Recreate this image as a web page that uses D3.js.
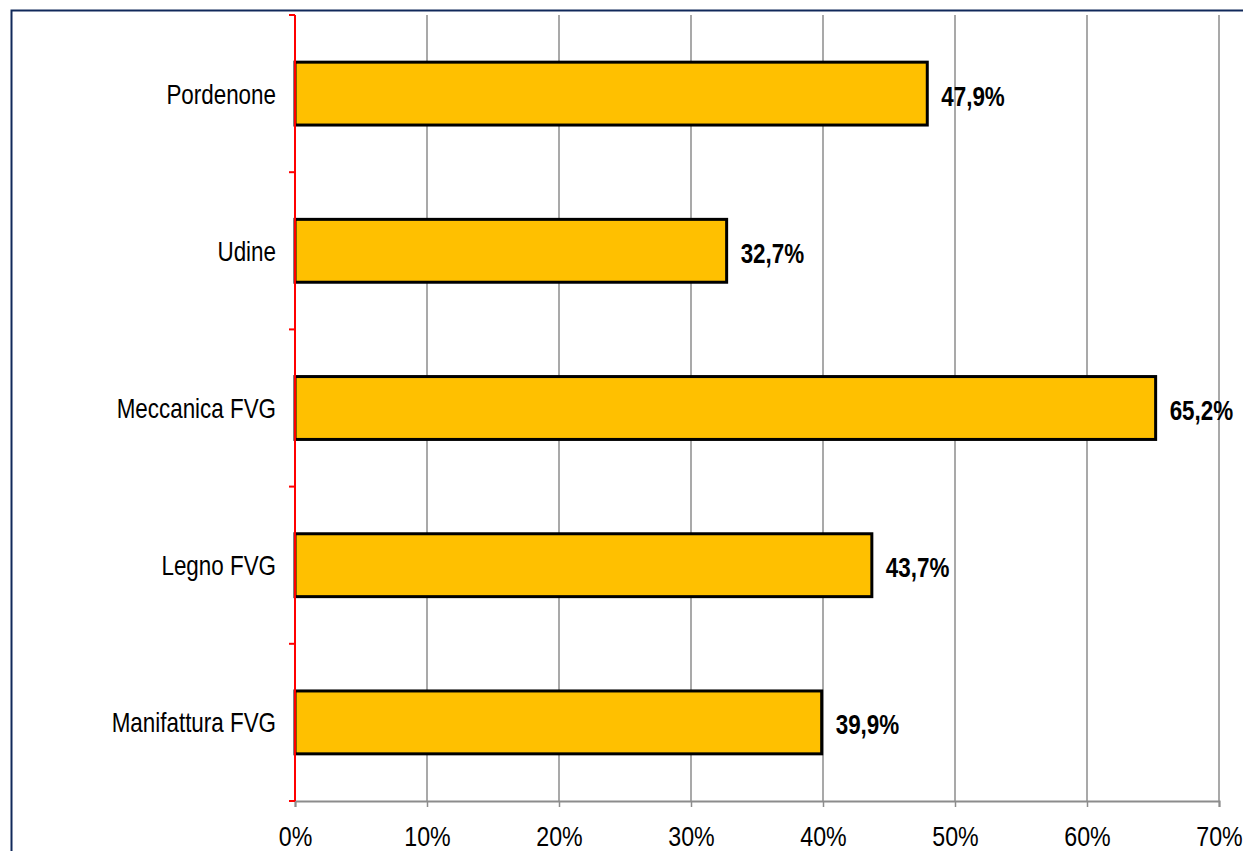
<!DOCTYPE html>
<html>
<head>
<meta charset="utf-8">
<script src="https://cdn.jsdelivr.net/npm/d3@7"></script>
<style>
body{margin:0;background:#fff;}
svg{display:block;}
text{font-family:"Liberation Sans",Arial,sans-serif;}
</style>
</head>
<body>
<div id="chart"></div>
<script>
var categories = ["Pordenone","Udine","Meccanica FVG","Legno FVG","Manifattura FVG"];
var values = [47.9, 32.7, 65.2, 43.7, 39.9];
var xticks = [0,10,20,30,40,50,60,70];

var width = 1243, height = 851;
var mleft = 295, mright = 1219, mtop = 15, mbottom = 801;
var fs = 27, squeeze = 0.83;   // narrow look of the original font

var svg = d3.select("#chart").append("svg")
	.attr("width", width)
	.attr("height", height);

// frame
svg.append("path")
	.attr("d", "M11.5," + height + " L11.5,10.5 L" + width + ",10.5")
	.attr("fill", "none")
	.attr("stroke", "#10295a")
	.attr("stroke-width", 2);

var xscale = d3.scaleLinear().domain([0,70]).range([mleft,mright]);
var yscale = d3.scaleBand().domain(categories).range([mtop,mbottom]).paddingInner(0.6).paddingOuter(0.3);

// gridlines
svg.append("g")
	.selectAll("line")
	.data(xticks.slice(1))
	.enter().append("line")
	.attr("x1", function(d){ return xscale(d); })
	.attr("x2", function(d){ return xscale(d); })
	.attr("y1", mtop)
	.attr("y2", mbottom)
	.attr("stroke", "#8c8c8c")
	.attr("stroke-width", 1.5);

// x axis
var x_axis = d3.axisBottom(xscale).tickValues(xticks)
	.tickFormat(function(d){ return d + "%"; })
	.tickSize(6).tickPadding(20);
var gx = svg.append("g")
	.attr("transform", "translate(0," + mbottom + ")")
	.call(x_axis);
gx.select(".domain").attr("stroke", "#8c8c8c").attr("stroke-width", 2);
gx.selectAll(".tick line").attr("stroke", "#8c8c8c").attr("stroke-width", 1.5);
gx.selectAll(".tick text")
	.attr("font-size", fs).attr("fill", "#000")
	.attr("font-family", "'Liberation Sans',Arial,sans-serif")
	.attr("transform", "scale(" + (squeeze + 0.03) + ",1)");

// bars
svg.selectAll(".bar")
	.data(categories)
	.enter().append("rect")
	.attr("class", "bar")
	.attr("x", xscale(0))
	.attr("y", function(d){ return yscale(d); })
	.attr("width", function(d,i){ return xscale(values[i]) - xscale(0); })
	.attr("height", yscale.bandwidth())
	.attr("fill", "#ffc000")
	.attr("stroke", "#000")
	.attr("stroke-width", 3);

// value labels
svg.selectAll(".val")
	.data(categories)
	.enter().append("text")
	.attr("transform", function(d,i){
		return "translate(" + (xscale(values[i]) + 14) + "," + (yscale(d) + yscale.bandwidth()/2 + 12) + ") scale(" + squeeze + ",1)";
	})
	.attr("font-size", fs)
	.attr("font-weight", "bold")
	.text(function(d,i){ return d3.format(".1f")(values[i]).replace(".", ",") + "%"; });

// y axis (red)
var ystep = (mbottom - mtop) / categories.length;
var ytickpos = d3.range(categories.length + 1).map(function(i){ return mtop + i*ystep; });
svg.append("line")
	.attr("x1", mleft).attr("x2", mleft)
	.attr("y1", mtop).attr("y2", mbottom)
	.attr("stroke", "#ff0000").attr("stroke-width", 2);
svg.append("g").selectAll("line")
	.data(ytickpos)
	.enter().append("line")
	.attr("x1", mleft - 6).attr("x2", mleft)
	.attr("y1", function(d){ return d; }).attr("y2", function(d){ return d; })
	.attr("stroke", "#ff0000").attr("stroke-width", 2);

// category labels
svg.selectAll(".cat")
	.data(categories)
	.enter().append("text")
	.attr("transform", function(d){
		return "translate(276," + (yscale(d) + yscale.bandwidth()/2 + 10) + ") scale(" + squeeze + ",1)";
	})
	.attr("text-anchor", "end")
	.attr("font-size", fs)
	.text(function(d){ return d; });
</script>
</body>
</html>
